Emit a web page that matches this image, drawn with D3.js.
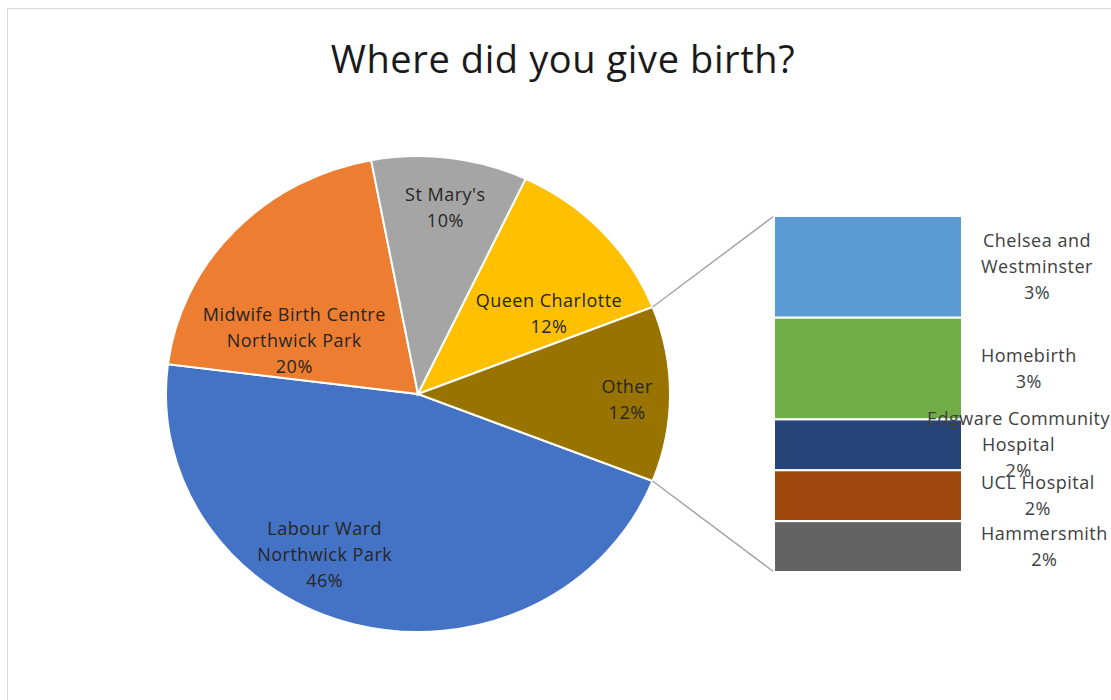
<!DOCTYPE html>
<html>
<head>
<meta charset="utf-8">
<script src="https://cdn.jsdelivr.net/npm/d3@7"></script>
<style>
  body { margin: 0; background: #fff; }
  svg { display: block; }
  text { font-family: "Open Sans", Lato, sans-serif; }
</style>
</head>
<body>
<div id="chart"></div>
<script>
// ---- data ----
const pieLabels = ["Labour Ward\nNorthwick Park", "Midwife Birth Centre\nNorthwick Park", "St Mary's", "Queen Charlotte"];
const pieValues = [46, 20, 10, 12];
const otherLabel = "Other";
const barLabels = ["Chelsea and\nWestminster", "Homebirth", "Edgware Community\nHospital", "UCL Hospital", "Hammersmith"];
const barValues = [3.4, 3.4, 1.7, 1.7, 1.7];
const pieColors = ["#4472C4", "#ED7D31", "#A5A5A5", "#FFC000", "#997300"];
const barColors = ["#5B9BD5", "#70AD47", "#264478", "#9E480E", "#636363"];

// label placement inside slices: [angle shift in degrees, radius fraction]
const labelLayout = [[14.4, 0.77], [-18.6, 0.54], [0.6, 0.79], [10, 0.62], [1.7, 0.83]];

const W = 1111, H = 700;
const cx = 418, cy = 394, R = 238, sx = 1.059;
const barX = 774, barW = 188, barTop = 216, barBottom = 572;
const lineH = 26;
const labelSize = 18;

const otherValue = d3.sum(barValues);
const total = d3.sum(pieValues) + otherValue;
const pct = d3.format(".0%");

const slices = pieLabels.map((l, i) => ({label: l, value: pieValues[i], color: pieColors[i]}));
slices.push({label: otherLabel, value: otherValue, color: pieColors[4]});

const otherAngle = 2 * Math.PI * otherValue / total;
const a0 = Math.PI / 2 + otherAngle / 2;

const pie = d3.pie().sort(null).value(d => d.value)
    .startAngle(a0).endAngle(a0 + 2 * Math.PI);
const arcs = pie(slices);
const arc = d3.arc().innerRadius(0).outerRadius(R);

const svg = d3.select("#chart").append("svg")
    .attr("width", W).attr("height", H);

// chart border
svg.append("path")
    .attr("d", `M7.5,${H} V8.5 H${W}`)
    .attr("fill", "none").attr("stroke", "#d9d9d9").attr("stroke-width", 1);

// title
svg.append("text")
    .attr("x", 563).attr("y", 73)
    .attr("text-anchor", "middle")
    .attr("font-size", 38)
    .attr("letter-spacing", 0.6)
    .attr("fill", "#1a1a1a")
    .text("Where did you give birth?");

// pie
const pieG = svg.append("g")
    .attr("transform", `translate(${cx},${cy}) scale(${sx},1)`);

pieG.selectAll("path.slice")
    .data(arcs)
    .enter().append("path")
    .attr("class", "slice")
    .attr("d", arc)
    .attr("fill", d => d.data.color)
    .attr("stroke", "#fff")
    .attr("stroke-width", 2)
    .attr("vector-effect", "non-scaling-stroke");

function pointAt(a, r) {
    return [cx + sx * r * Math.sin(a), cy - r * Math.cos(a)];
}

// slice labels
arcs.forEach((d, i) => {
    const mid = (d.startAngle + d.endAngle) / 2 + labelLayout[i][0] * Math.PI / 180;
    const p = pointAt(mid, R * labelLayout[i][1]);
    const lines = d.data.label.split("\n").concat(pct(d.data.value / total));
    const t = svg.append("text")
        .attr("text-anchor", "middle")
        .attr("font-size", labelSize)
        .attr("letter-spacing", 0.5)
        .attr("fill", "#262626");
    lines.forEach((ln, k) => {
        t.append("tspan")
            .attr("x", p[0])
            .attr("y", p[1] + (k - (lines.length - 1) / 2) * lineH)
            .attr("dy", "0.35em")
            .text(ln);
    });
});

// connector lines
const otherArc = arcs[arcs.length - 1];
const pTop = pointAt(otherArc.startAngle, R);
const pBot = pointAt(otherArc.endAngle, R);
svg.append("line")
    .attr("x1", pTop[0]).attr("y1", pTop[1]).attr("x2", barX).attr("y2", barTop)
    .attr("stroke", "#a6a6a6").attr("stroke-width", 1.5);
svg.append("line")
    .attr("x1", pBot[0]).attr("y1", pBot[1]).attr("x2", barX).attr("y2", barBottom)
    .attr("stroke", "#a6a6a6").attr("stroke-width", 1.5);

// bar of pie
const yBar = d3.scaleLinear().domain([0, otherValue]).range([barTop, barBottom]);
let cum = 0;
const segs = barValues.map((v, i) => {
    const s = {label: barLabels[i], value: v, color: barColors[i], y0: cum, y1: cum + v};
    cum += v;
    return s;
});

svg.selectAll("rect.seg")
    .data(segs)
    .enter().append("rect")
    .attr("class", "seg")
    .attr("x", barX)
    .attr("y", d => yBar(d.y0))
    .attr("width", barW)
    .attr("height", d => yBar(d.y1) - yBar(d.y0))
    .attr("fill", d => d.color)
    .attr("stroke", "#fff")
    .attr("stroke-width", 2);

// bar labels
segs.forEach(d => {
    const lines = d.label.split("\n").concat(pct(d.value / total));
    const yc = (yBar(d.y0) + yBar(d.y1)) / 2;
    const t = svg.append("text")
        .attr("text-anchor", "middle")
        .attr("font-size", labelSize)
        .attr("letter-spacing", 0.5)
        .attr("fill", "#404040");
    const spans = lines.map((ln, k) => t.append("tspan")
        .attr("y", yc + (k - (lines.length - 1) / 2) * lineH)
        .attr("dy", "0.35em")
        .text(ln));
    const w = d3.max(spans, s => s.node().getComputedTextLength());
    let left = barX + barW + 19;
    if (left + w > W - 1) left = W - 1 - w;
    spans.forEach(s => s.attr("x", left + w / 2));
});
</script>
</body>
</html>
